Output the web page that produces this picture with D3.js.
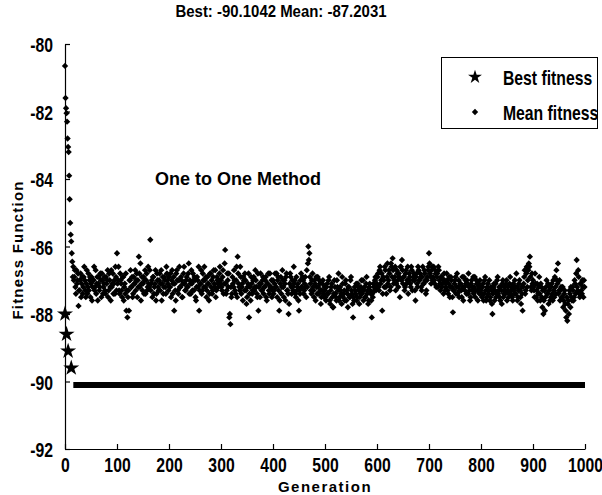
<!DOCTYPE html>
<html><head><meta charset="utf-8">
<script src="https://cdn.jsdelivr.net/npm/d3@7"></script>
<style>body{margin:0;background:#fff}svg{display:block}</style>
</head><body>
<script>
const titleText = "Best: -90.1042 Mean: -87.2031";
const xLabel = "Generation";
const yLabel = "Fitness Function";
const annotation = "One to One Method";
const legendLabels = ["Best fitness", "Mean fitness"];
const xTicks = [0,100,200,300,400,500,600,700,800,900,1000];
const yTicks = [-92,-90,-88,-86,-84,-82,-80];

// best fitness: early generations, then a constant plateau
const bestGen = [0, 3, 6, 12];
const bestVal = [-88.0, -88.6, -89.1, -89.6];
const bestPlateauGen = [16, 1000];
const bestPlateauVal = -90.1042;

// mean fitness, generations 0..15 (one per generation)
const meanEarly = [-80.65,-81.6,-81.9,-82.05,-82.3,-82.8,-83.05,-83.2,-83.9,-84.6,-85.3,-85.65,-85.85,-86.2,-86.45,-86.9];
// mean fitness, even generations
const mean016 = [-86.6,-86.9,-87.2,-86.7,-87.0,-87.76,-87.3,-86.8,-87.1,-87.4,-86.9,-87.0,-87.5,-86.7,-87.2,-87.3,-86.9,-87.1,-87.6,-87.0,-86.6,-87.2,-87.4,-86.9,-87.1,-87.3,-86.8,-87.5,-87.0,-87.2,-86.9,-87.4,-87.1,-86.7,-87.3,-87.0,-87.6,-87.2,-86.8,-87.1,-87.4,-86.9];
const mean100 = [-86.2,-87.0,-87.3,-86.8,-87.1,-87.5,-86.9,-87.2,-87.4,-87.9,-88.1,-87.3,-87.0,-86.7,-87.2,-87.5,-86.9,-87.1,-87.3,-86.8,-87.0,-86.3,-87.2,-87.6,-86.9,-87.1,-87.4,-86.7,-87.0,-87.3,-86.6,-87.2,-85.8,-87.1,-87.5,-86.9,-87.2,-86.7,-87.4,-87.0,-87.3,-86.8,-87.1,-87.6,-86.9,-87.2,-87.0,-87.4,-86.8,-87.1];
const mean200 = [-86.9,-87.2,-87.5,-86.7,-87.1,-87.9,-87.3,-86.8,-87.0,-87.4,-86.6,-87.2,-87.0,-87.5,-86.8,-87.1,-87.3,-86.9,-87.2,-86.5,-87.0,-87.4,-87.1,-86.8,-87.3,-87.0,-87.6,-86.9,-87.2,-87.9,-87.1,-86.7,-87.3,-87.0,-86.6,-87.2,-87.5,-86.9,-87.1,-87.4,-86.8,-87.0,-87.3,-86.7,-87.2,-87.5,-86.9,-87.1,-87.0,-86.6];
const mean300 = [-87.0,-87.3,-86.7,-87.1,-86.1,-87.4,-86.8,-87.2,-88.1,-88.3,-87.5,-86.9,-87.2,-87.0,-87.4,-86.6,-86.3,-87.1,-87.3,-86.9,-87.2,-87.6,-87.0,-86.8,-87.3,-87.5,-87.1,-88.1,-87.2,-86.9,-87.4,-87.0,-87.3,-86.7,-87.2,-87.5,-87.9,-87.1,-86.8,-87.3,-87.0,-87.4,-87.2,-86.9,-87.6,-87.1,-87.3,-86.8,-87.2,-87.5];
const mean400 = [-87.0,-87.3,-86.8,-87.2,-87.5,-86.9,-87.9,-87.1,-87.4,-86.7,-87.2,-87.0,-87.6,-86.8,-87.3,-88.0,-87.1,-86.9,-87.4,-87.2,-86.6,-87.0,-87.5,-87.3,-87.1,-87.9,-87.4,-86.8,-87.2,-87.0,-87.3,-86.9,-87.5,-87.2,-86.0,-86.2,-87.1,-87.4,-86.8,-87.3,-87.0,-87.6,-87.2,-86.9,-87.4,-87.1,-87.7,-87.3,-87.0,-87.5];
const mean500 = [-87.3,-87.6,-87.1,-87.4,-86.9,-87.7,-87.2,-87.5,-87.8,-87.0,-87.4,-87.6,-87.2,-86.8,-87.5,-87.3,-87.7,-87.1,-87.4,-87.6,-87.0,-87.3,-87.8,-87.2,-87.5,-86.9,-87.4,-88.1,-87.6,-87.3,-87.1,-87.5,-87.2,-87.7,-87.4,-87.0,-87.3,-87.6,-87.2,-87.5,-86.9,-87.3,-87.6,-87.1,-87.4,-88.1,-87.5,-87.2,-87.0,-87.3];
const mean600 = [-87.1,-86.8,-87.3,-86.6,-87.0,-87.9,-86.9,-87.2,-86.7,-87.4,-86.5,-87.0,-86.8,-87.2,-86.6,-86.35,-87.1,-86.9,-87.3,-86.7,-87.0,-86.8,-87.5,-86.6,-86.4,-87.1,-86.9,-87.2,-86.7,-87.0,-87.4,-86.8,-87.1,-86.6,-87.3,-86.9,-87.0,-87.6,-86.8,-87.2,-86.7,-87.0,-86.9,-87.3,-86.6,-87.1,-86.8,-87.4,-87.0,-86.7];
const mean700 = [-86.2,-86.8,-87.1,-86.6,-86.9,-87.0,-86.7,-87.2,-86.8,-86.6,-87.0,-87.3,-86.9,-87.1,-87.4,-87.0,-87.2,-86.8,-87.3,-87.1,-87.5,-86.9,-87.2,-87.95,-87.3,-87.0,-87.4,-86.8,-87.2,-87.5,-87.1,-87.3,-86.9,-87.6,-87.2,-87.0,-87.4,-87.1,-86.8,-87.3,-87.5,-87.0,-87.2,-87.4,-86.9,-87.3,-87.1,-87.6,-87.2,-87.0];
const mean800 = [-87.3,-87.5,-87.1,-87.4,-86.9,-87.6,-87.2,-87.4,-87.0,-87.5,-87.3,-88.0,-87.2,-87.6,-87.1,-87.4,-86.9,-87.3,-87.5,-87.2,-87.7,-87.0,-87.4,-87.3,-87.1,-87.6,-87.2,-87.4,-86.9,-87.3,-87.5,-87.1,-87.4,-87.2,-86.8,-87.6,-87.3,-87.0,-87.5,-87.2,-87.9,-87.1,-86.7,-87.3,-86.6,-87.0,-86.5,-86.3,-87.2,-86.8];
const mean900 = [-87.0,-87.3,-86.8,-87.5,-87.1,-87.4,-86.9,-87.6,-87.2,-87.8,-88.0,-87.3,-87.5,-87.0,-87.4,-87.7,-87.2,-87.5,-87.1,-87.6,-87.3,-86.9,-87.4,-87.0,-86.5,-87.3,-87.6,-87.2,-87.5,-87.8,-87.4,-87.7,-88.1,-88.2,-87.6,-87.3,-87.8,-87.5,-87.2,-87.6,-87.0,-87.4,-86.4,-87.3,-86.9,-87.5,-87.1,-87.4,-87.2,-87.0];
// mean fitness, odd generations
const mean017 = [-87.0,-86.7,-87.4,-87.1,-86.8,-87.3,-87.0,-87.5,-86.9,-87.2,-86.6,-87.3,-87.1,-87.4,-86.8,-87.0,-87.5,-86.9,-87.2,-87.0,-87.3,-86.7,-87.1,-87.6,-86.9,-87.2,-87.0,-86.8,-87.4,-87.1,-87.3,-86.9,-87.0,-87.5,-86.8,-87.2,-86.7,-87.1,-87.4,-87.0,-86.6,-87.3];
const mean101 = [-87.1,-86.6,-87.4,-87.0,-87.3,-86.9,-87.6,-87.1,-86.8,-87.3,-87.5,-87.9,-87.0,-87.2,-86.9,-87.4,-87.1,-86.7,-87.0,-87.5,-87.2,-86.8,-86.5,-87.1,-87.3,-86.9,-87.0,-87.4,-86.8,-87.2,-87.1,-86.7,-87.3,-87.0,-86.9,-87.4,-87.1,-87.6,-86.8,-87.2,-87.0,-87.3,-86.7,-87.1,-87.4,-86.9,-87.2,-86.6,-87.0,-87.3];
const mean201 = [-87.2,-86.8,-87.0,-87.4,-86.9,-87.1,-87.6,-86.7,-87.3,-87.0,-87.2,-86.9,-87.5,-87.1,-86.6,-87.3,-87.0,-87.2,-86.8,-87.4,-87.1,-86.7,-87.3,-87.0,-86.9,-87.5,-87.2,-87.0,-86.6,-87.3,-87.1,-87.4,-86.8,-87.2,-87.0,-86.9,-87.3,-87.1,-87.6,-86.8,-87.2,-87.4,-86.9,-87.1,-86.7,-87.3,-87.0,-87.2,-86.8,-87.1];
const mean301 = [-87.2,-86.9,-87.4,-86.5,-87.1,-87.3,-87.0,-86.8,-88.0,-87.2,-87.4,-87.1,-86.7,-87.3,-87.0,-87.5,-86.8,-87.2,-86.6,-87.4,-87.1,-86.9,-87.3,-87.0,-87.7,-87.2,-86.8,-87.4,-87.6,-87.1,-87.3,-86.9,-87.2,-87.0,-87.4,-86.8,-87.2,-87.5,-87.1,-87.3,-86.9,-87.2,-87.0,-87.5,-87.1,-86.8,-87.4,-87.2,-87.0,-87.3];
const mean401 = [-87.4,-87.1,-87.2,-86.8,-87.0,-87.3,-87.6,-86.9,-87.2,-87.0,-87.5,-87.1,-86.9,-87.3,-87.4,-87.7,-86.8,-87.2,-87.0,-87.3,-87.1,-87.4,-86.9,-87.2,-87.6,-87.3,-87.0,-87.2,-86.9,-87.4,-87.1,-87.2,-86.7,-86.5,-86.4,-86.9,-87.3,-87.0,-87.2,-87.5,-87.1,-86.9,-87.4,-87.2,-87.0,-87.3,-87.5,-87.1,-87.4,-87.2];
const mean501 = [-87.5,-87.2,-87.4,-87.0,-87.6,-87.3,-87.1,-87.8,-87.4,-87.2,-87.5,-87.0,-87.3,-87.6,-87.2,-87.4,-86.9,-87.5,-87.3,-87.1,-87.6,-87.4,-87.2,-87.5,-87.0,-87.3,-87.7,-87.5,-87.2,-87.4,-87.6,-87.1,-87.3,-87.5,-87.2,-87.4,-87.0,-87.3,-87.5,-87.1,-87.4,-87.7,-87.2,-87.3,-87.6,-87.4,-87.1,-87.3,-86.9,-87.2];
const mean601 = [-86.9,-87.2,-86.7,-87.1,-86.8,-87.4,-87.0,-86.6,-87.2,-86.9,-87.1,-86.7,-87.3,-86.5,-86.9,-86.7,-87.0,-86.6,-87.1,-86.8,-87.2,-86.9,-86.6,-87.0,-86.7,-86.9,-87.3,-86.8,-87.1,-86.6,-87.0,-86.9,-87.2,-86.7,-87.0,-86.8,-87.3,-86.9,-87.1,-86.6,-87.0,-86.8,-87.2,-86.9,-87.1,-86.7,-87.0,-87.3,-86.9,-86.6];
const mean701 = [-86.5,-86.9,-86.7,-87.0,-86.6,-87.1,-86.8,-86.9,-87.2,-86.7,-87.1,-86.9,-87.2,-87.0,-86.8,-87.3,-87.1,-87.0,-87.4,-86.9,-87.2,-87.0,-87.5,-87.3,-87.1,-86.9,-87.2,-87.4,-87.0,-87.3,-87.1,-87.5,-87.2,-86.9,-87.3,-87.1,-87.0,-87.4,-87.2,-87.6,-87.1,-87.3,-86.9,-87.2,-87.5,-87.0,-87.3,-87.1,-87.4,-87.2];
const mean801 = [-87.4,-87.2,-87.6,-87.0,-87.3,-87.5,-87.1,-87.3,-87.6,-87.2,-87.7,-87.4,-87.1,-87.3,-87.5,-87.0,-87.4,-87.2,-87.6,-87.3,-87.1,-87.5,-87.2,-87.4,-87.0,-87.3,-87.5,-87.1,-87.4,-87.2,-87.6,-87.3,-87.0,-87.4,-87.2,-87.5,-87.1,-87.3,-87.7,-87.4,-87.2,-86.9,-87.4,-86.8,-87.2,-86.7,-86.6,-86.9,-87.3,-87.1];
const mean901 = [-87.2,-87.5,-87.1,-87.3,-87.6,-87.2,-87.4,-87.1,-87.5,-87.3,-87.6,-87.9,-87.2,-87.4,-87.1,-87.3,-87.6,-87.2,-87.4,-87.0,-87.5,-87.2,-86.7,-87.1,-87.4,-87.0,-87.3,-87.5,-87.2,-87.6,-87.3,-87.9,-87.5,-87.7,-88.0,-87.4,-87.2,-87.6,-87.3,-87.5,-87.1,-86.8,-87.2,-86.7,-87.4,-87.1,-87.3,-87.0,-87.5,-87.2];
const meanSegments = [[16, mean016],[100, mean100],[200, mean200],[300, mean300],[400, mean400],[500, mean500],[600, mean600],[700, mean700],[800, mean800],[900, mean900],
  [17, mean017],[101, mean101],[201, mean201],[301, mean301],[401, mean401],[501, mean501],[601, mean601],[701, mean701],[801, mean801],[901, mean901]];
const meanStep = 2;

const W = 602, H = 495;
const narrow = "'Liberation Sans Narrow', 'Arial Narrow', sans-serif";
const sans = "'Liberation Sans', Arial, sans-serif";
const sx = 0.75;

const svg = d3.select("body").append("svg").attr("width", W).attr("height", H);
const x = d3.scaleLinear().domain([0, 1000]).range([65, 585]);
const y = d3.scaleLinear().domain([-92, -80]).range([449, 44]);

const meanPts = meanEarly.map((v, i) => ({g: i, v}));
meanSegments.forEach(([start, arr]) => arr.forEach((v, i) => meanPts.push({g: start + meanStep * i, v})));
const bestPts = bestGen.map((g, i) => ({g, v: bestVal[i]}));

const diamond = d3.symbol(d3.symbolSquare, 20)();
const star = d3.symbol(d3.symbolStar, 80)();
const legendStar = d3.symbol(d3.symbolStar, 60)();

svg.append("path")
  .datum(bestPlateauGen.map(g => ({g, v: bestPlateauVal})))
  .attr("d", d3.line().x(d => x(d.g)).y(d => y(d.v)))
  .attr("stroke", "#000").attr("stroke-width", 6).attr("fill", "none");

svg.append("g").selectAll("path").data(meanPts).join("path")
  .attr("d", diamond)
  .attr("transform", d => `translate(${x(d.g)},${y(d.v)}) rotate(45)`)
  .attr("fill", "#000");

svg.append("g").selectAll("path").data(bestPts).join("path")
  .attr("d", star)
  .attr("transform", d => `translate(${x(d.g)},${y(d.v)})`)
  .attr("fill", "#000");

const yAxis = svg.append("g").attr("transform", "translate(65,0)")
  .call(d3.axisLeft(y).tickValues(yTicks).tickFormat(d => String(d)).tickSizeInner(-5).tickSizeOuter(0).tickPadding(16));
const xAxis = svg.append("g").attr("transform", "translate(0,449)")
  .call(d3.axisBottom(x).tickValues(xTicks).tickFormat(d => String(d)).tickSizeInner(-5).tickSizeOuter(0).tickPadding(8));
[yAxis, xAxis].forEach(a => {
  a.selectAll(".domain, .tick line").attr("stroke", "#000").attr("stroke-width", 1.2);
  a.selectAll("text").attr("font-family", narrow).attr("font-weight", "bold")
    .attr("font-size", 21).attr("fill", "#000").attr("transform", `scale(${sx},1)`);
});
yAxis.selectAll("text").attr("dy", "0.36em");

svg.append("text").attr("x", 281).attr("y", 17).attr("text-anchor", "middle")
  .attr("font-family", narrow).attr("font-weight", "bold").attr("font-size", 17)
  .attr("transform", `translate(281,0) scale(0.88,1) translate(-281,0)`)
  .text(titleText);

svg.append("text").attr("x", 325).attr("y", 492).attr("text-anchor", "middle")
  .attr("font-family", sans).attr("font-weight", "bold").attr("font-size", 15)
  .attr("letter-spacing", 1.5).text(xLabel);
svg.append("text").attr("transform", "translate(23,250) rotate(-90)").attr("text-anchor", "middle")
  .attr("font-family", sans).attr("font-weight", "bold").attr("font-size", 15)
  .attr("letter-spacing", 1.2).text(yLabel);

svg.append("text").attr("x", 155).attr("y", 185)
  .attr("font-family", sans).attr("font-weight", "bold").attr("font-size", 18)
  .text(annotation);

const lg = svg.append("g");
lg.append("rect").attr("x", 441.5).attr("y", 57.5).attr("width", 156).attr("height", 71)
  .attr("fill", "#fff").attr("stroke", "#000").attr("stroke-width", 1);
const items = lg.selectAll("g.item").data(legendLabels).join("g").attr("class", "item")
  .attr("transform", (d, i) => `translate(0,${[77, 112][i]})`);
items.append("path").attr("d", (d, i) => i === 0 ? legendStar : diamond)
  .attr("transform", (d, i) => i === 0 ? "translate(475,0)" : "translate(475,0) rotate(45)")
  .attr("fill", "#000");
items.append("text").attr("x", 503 / sx).attr("dy", "0.36em")
  .attr("transform", `scale(${sx},1)`)
  .attr("font-family", narrow).attr("font-weight", "bold").attr("font-size", 21)
  .text(d => d);
</script>
</body></html>
